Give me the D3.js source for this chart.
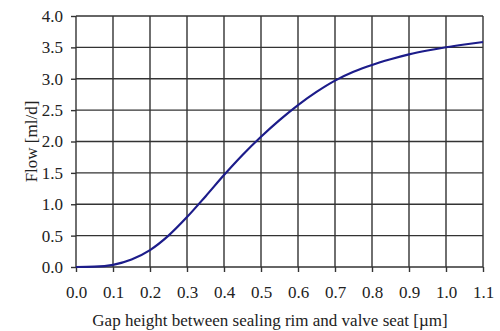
<!DOCTYPE html>
<html>
<head>
<meta charset="utf-8">
<script src="https://cdn.jsdelivr.net/npm/d3@7"></script>
<style>
  body { margin: 0; background: #fff; }
  svg text { font-family: "Liberation Serif", "DejaVu Serif", serif; fill: #222; }
</style>
</head>
<body>
<svg id="chart" width="500" height="331"></svg>
<script>
// gap height [µm] and flow [ml/d]
const GAP = [0, 0.05, 0.1, 0.15, 0.2, 0.25, 0.3, 0.35, 0.4, 0.45, 0.5, 0.55, 0.6, 0.65, 0.7, 0.75, 0.8, 0.85, 0.9, 0.95, 1.0, 1.05, 1.1];
const FLOW = [0, 0.005, 0.035, 0.12, 0.27, 0.5, 0.795, 1.125, 1.465, 1.785, 2.075, 2.34, 2.58, 2.79, 2.97, 3.11, 3.22, 3.31, 3.388, 3.45, 3.502, 3.546, 3.585];
const X_TICKS = [0, 0.1, 0.2, 0.3, 0.4, 0.5, 0.6, 0.7, 0.8, 0.9, 1.0, 1.1];
const Y_TICKS = [0, 0.5, 1.0, 1.5, 2.0, 2.5, 3.0, 3.5, 4.0];

const M = {left: 76, right: 17, top: 16, bottom: 64};
const W = 500, H = 331;
const FS = 17;

const svg = d3.select("#chart");
const x = d3.scaleLinear().domain([0, 1.1]).range([M.left, W - M.right]);
const y = d3.scaleLinear().domain([0, 4]).range([H - M.bottom, M.top]);

// grid
const grid = svg.append("g").attr("stroke", "#333").attr("stroke-width", 1.4);
grid.selectAll("line.v").data(X_TICKS).enter().append("line")
    .attr("x1", d => x(d)).attr("x2", d => x(d))
    .attr("y1", y(4)).attr("y2", y(0));
grid.selectAll("line.h").data(Y_TICKS).enter().append("line")
    .attr("x1", x(0)).attr("x2", x(1.1))
    .attr("y1", d => y(d)).attr("y2", d => y(d));

// axes
const xAxis = svg.append("g")
    .attr("transform", "translate(0," + y(0) + ")")
    .call(d3.axisBottom(x).tickValues(X_TICKS).tickFormat(d3.format(".1f")).tickSize(5).tickPadding(14));
const yAxis = svg.append("g")
    .attr("transform", "translate(" + x(0) + ",0)")
    .call(d3.axisLeft(y).tickValues(Y_TICKS).tickFormat(d3.format(".1f")).tickSize(5).tickPadding(8));
[xAxis, yAxis].forEach(a => {
    a.select(".domain").remove();
    a.selectAll("line").attr("stroke", "#333").attr("stroke-width", 1.4);
    a.selectAll("text").attr("font-size", FS).attr("fill", "#222");
});

// curve
const line = d3.line().x((d, i) => x(GAP[i])).y(d => y(d)).curve(d3.curveMonotoneX);
svg.append("path")
   .datum(FLOW)
   .attr("d", line)
   .attr("fill", "none")
   .attr("stroke", "#1c1c8a")
   .attr("stroke-width", 2.2);

// titles
svg.append("text")
   .attr("x", 270).attr("y", 326)
   .attr("text-anchor", "middle")
   .attr("font-size", FS)
   .text("Gap height between sealing rim and valve seat [µm]");
svg.append("text")
   .attr("transform", "translate(37," + y(2) + ") rotate(-90)")
   .attr("text-anchor", "middle")
   .attr("font-size", FS)
   .text("Flow [ml/d]");
</script>
</body>
</html>
